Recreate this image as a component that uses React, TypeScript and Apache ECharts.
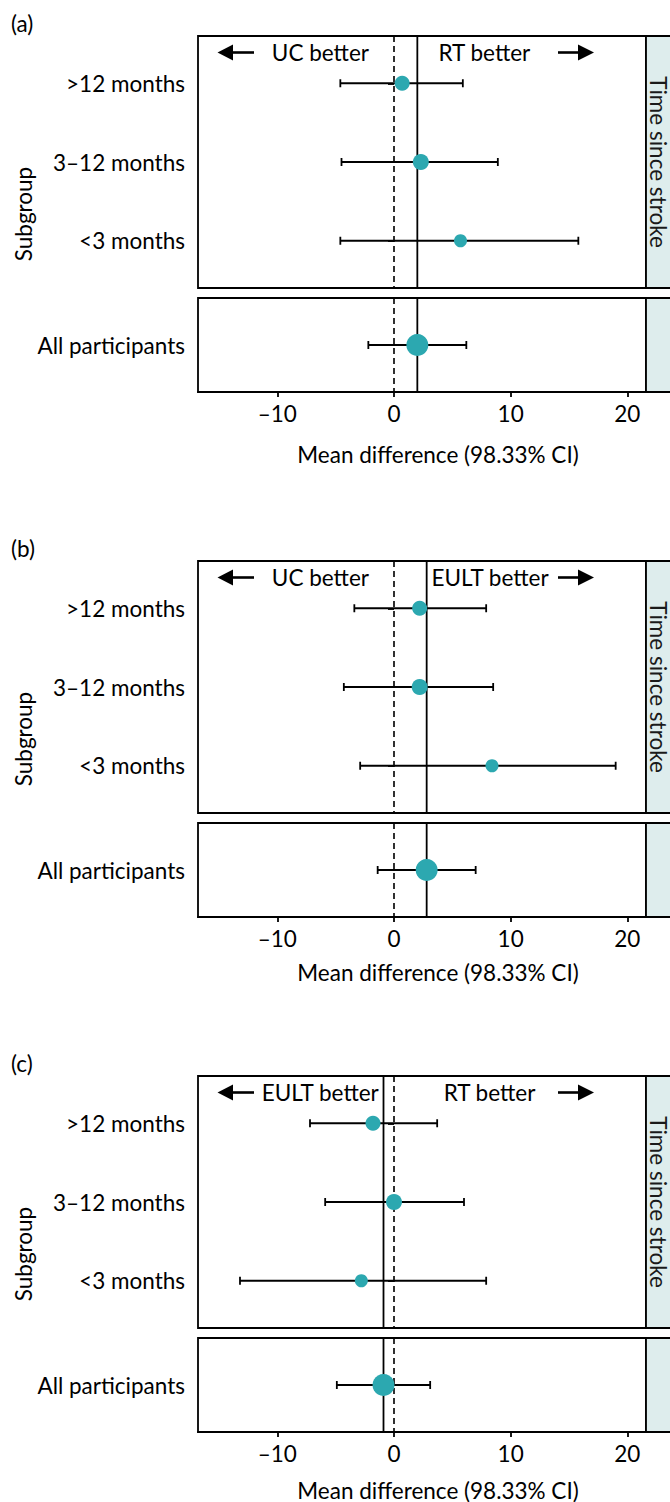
import React, { useEffect, useRef } from 'react';
import * as echarts from 'echarts';

// ---------- data ----------
const categories = ['>12 months', '3–12 months', '<3 months'];
const overallLabel = 'All participants';
const panelTags = ['(a)', '(b)', '(c)'];
const leftLabels = ['UC better', 'UC better', 'EULT better'];
const rightLabels = ['RT better', 'EULT better', 'RT better'];
const stripLabel = 'Time since stroke';
const xTitle = 'Mean difference (98.33% CI)';
const yTitle = 'Subgroup';
const xTicks = [-10, 0, 10, 20];

// panel (a) RT vs UC
const estA = [0.7, 2.3, 5.7];
const lowA = [-4.6, -4.5, -4.6];
const highA = [5.9, 8.9, 15.8];
const allA = [2.0, -2.2, 6.2]; // estimate, low, high

// panel (b) EULT vs UC
const estB = [2.2, 2.2, 8.4];
const lowB = [-3.4, -4.3, -2.9];
const highB = [7.9, 8.5, 19.0];
const allB = [2.8, -1.4, 7.0];

// panel (c) RT vs EULT
const estC = [-1.8, 0.0, -2.8];
const lowC = [-7.2, -5.9, -13.2];
const highC = [3.7, 6.0, 7.9];
const allC = [-0.9, -4.9, 3.1];

const panels = [
  { est: estA, low: lowA, high: highA, all: allA },
  { est: estB, low: lowB, high: highB, all: allB },
  { est: estC, low: lowC, high: highC, all: allC },
];

// ---------- layout / style ----------
const X_MIN = -16.8;
const X_MAX = 21.6;
const GRID_LEFT = 198;
const GRID_W = 448;
const UPPER_H = 252;
const GAP = 10;
const LOWER_H = 94;
const panelTops = [36, 561, 1076];
const titleOffsets = [62, 55, 58];
const leftTextCenters = [320.4, 320.4, 320.2];
const rightTextCenters = [484.4, 490, 489.5];
const subgroupSizes = [15, 16, 13];
const overallSize = 22;
const TEAL = '#2ca8b0';
const LW = 1.8;
const FONT = 'Lato';
const FS = 22.5;

const fmtTick = (v: number) => (v < 0 ? '–' + Math.abs(v) : String(v));

function buildOption() {
  const grids: any[] = [];
  const xAxes: any[] = [];
  const yAxes: any[] = [];
  const series: any[] = [];
  const graphics: any[] = [];

  panels.forEach((p, pi) => {
    const top = panelTops[pi];
    const lowerTop = top + UPPER_H + GAP;
    [0, 1].forEach((k) => {
      const isLower = k === 1;
      const gi = pi * 2 + k;
      grids.push({
        left: GRID_LEFT,
        top: isLower ? lowerTop : top,
        width: GRID_W,
        height: isLower ? LOWER_H : UPPER_H,
        show: true,
        borderColor: '#000',
        borderWidth: LW,
        backgroundColor: '#fff',
      });
      xAxes.push({
        type: 'value',
        gridIndex: gi,
        min: X_MIN,
        max: X_MAX,
        splitLine: { show: false },
        axisLine: { show: isLower, lineStyle: { color: '#000', width: LW } },
        axisTick: {
          show: isLower,
          customValues: xTicks,
          length: 5,
          lineStyle: { color: '#000', width: LW },
        },
        axisLabel: {
          show: isLower,
          customValues: xTicks,
          formatter: (v: number) => fmtTick(Math.round(v)),
          color: '#000',
          fontFamily: FONT,
          fontSize: FS,
          margin: 10,
        },
      });
      const n = isLower ? 1 : categories.length;
      const vals = isLower ? [1] : categories.map((_, i) => i + 1);
      yAxes.push({
        type: 'value',
        gridIndex: gi,
        min: 0.4,
        max: n + 0.6,
        inverse: true,
        splitLine: { show: false },
        axisLine: { show: false },
        axisTick: {
          show: true,
          customValues: vals,
          length: 6,
          lineStyle: { color: '#000', width: LW },
        },
        axisLabel: {
          customValues: vals,
          formatter: (v: number) =>
            isLower ? overallLabel : categories[Math.round(v) - 1],
          color: '#000',
          fontFamily: FONT,
          fontSize: FS,
          margin: 13,
        },
      });

      const est = isLower ? [p.all[0]] : p.est;
      const lo = isLower ? [p.all[1]] : p.low;
      const hi = isLower ? [p.all[2]] : p.high;
      const sizes = isLower ? [overallSize] : subgroupSizes;

      // reference lines: zero (dashed) and overall estimate (solid)
      series.push({
        type: 'line',
        xAxisIndex: gi,
        yAxisIndex: gi,
        data: [
          [0, 0.4],
          [0, n + 0.6],
        ],
        symbol: 'none',
        silent: true,
        z: 1,
        lineStyle: { color: '#000', width: LW * 0.9, type: [6, 4] },
      });
      series.push({
        type: 'line',
        xAxisIndex: gi,
        yAxisIndex: gi,
        data: [
          [p.all[0], 0.4],
          [p.all[0], n + 0.6],
        ],
        symbol: 'none',
        silent: true,
        z: 1,
        lineStyle: { color: '#000', width: LW },
      });
      // error bars
      series.push({
        type: 'custom',
        xAxisIndex: gi,
        yAxisIndex: gi,
        z: 2,
        data: est.map((_, i) => [vals[i], lo[i], hi[i]]),
        encode: { x: [1, 2], y: 0 },
        renderItem: (params: any, api: any) => {
          const y = api.value(0);
          const a = api.coord([api.value(1), y]);
          const b = api.coord([api.value(2), y]);
          const c = 4;
          const style = { stroke: '#000', lineWidth: LW };
          return {
            type: 'group',
            children: [
              { type: 'line', shape: { x1: a[0], y1: a[1], x2: b[0], y2: b[1] }, style },
              { type: 'line', shape: { x1: a[0], y1: a[1] - c, x2: a[0], y2: a[1] + c }, style },
              { type: 'line', shape: { x1: b[0], y1: b[1] - c, x2: b[0], y2: b[1] + c }, style },
            ],
          };
        },
      });
      // point estimates
      series.push({
        type: 'scatter',
        xAxisIndex: gi,
        yAxisIndex: gi,
        z: 3,
        data: est.map((e, i) => [e, vals[i]]),
        symbol: 'circle',
        symbolSize: (_v: any, prm: any) => sizes[prm.dataIndex],
        itemStyle: { color: TEAL, opacity: 1 },
      });

      // strip on the right
      graphics.push({
        type: 'rect',
        z: 10,
        shape: {
          x: GRID_LEFT + GRID_W,
          y: isLower ? lowerTop : top,
          width: 40,
          height: isLower ? LOWER_H : UPPER_H,
        },
        style: { fill: '#deeded', stroke: '#000', lineWidth: LW },
      });
    });

    // strip label
    graphics.push({
      type: 'text',
      z: 11,
      x: 658,
      y: top + UPPER_H / 2,
      rotation: -Math.PI / 2,
      style: {
        text: stripLabel,
        fill: '#1a1a1a',
        font: `${FS}px ${FONT}`,
        align: 'center',
        verticalAlign: 'middle',
      },
    });

    // panel tag
    graphics.push({
      type: 'text',
      x: 11,
      y: top - 13,
      style: { text: panelTags[pi], fill: '#000', font: `${FS}px ${FONT}`, align: 'left', verticalAlign: 'middle' },
    });

    // y title
    graphics.push({
      type: 'text',
      x: 23,
      y: (top + top + UPPER_H + GAP + LOWER_H) / 2,
      rotation: Math.PI / 2,
      style: { text: yTitle, fill: '#000', font: `${FS}px ${FONT}`, align: 'center', verticalAlign: 'middle' },
    });

    // x title
    graphics.push({
      type: 'text',
      x: 438,
      y: top + UPPER_H + GAP + LOWER_H + titleOffsets[pi],
      style: { text: xTitle, fill: '#000', font: `${FS}px ${FONT}`, align: 'center', verticalAlign: 'middle' },
    });

    // direction annotations
    const ay = top + 16.5;
    graphics.push({
      type: 'text',
      z: 5,
      x: leftTextCenters[pi],
      y: ay,
      style: { text: leftLabels[pi], fill: '#000', font: `${FS}px ${FONT}`, align: 'center', verticalAlign: 'middle' },
    });
    graphics.push({
      type: 'text',
      z: 5,
      x: rightTextCenters[pi],
      y: ay,
      style: { text: rightLabels[pi], fill: '#000', font: `${FS}px ${FONT}`, align: 'center', verticalAlign: 'middle' },
    });
    // left arrow
    graphics.push({
      type: 'line',
      z: 5,
      shape: { x1: 230, y1: ay, x2: 254, y2: ay },
      style: { stroke: '#000', lineWidth: 2.6 },
    });
    graphics.push({
      type: 'polygon',
      z: 5,
      shape: { points: [[217.5, ay], [233, ay - 8], [233, ay + 8]] },
      style: { fill: '#000' },
    });
    // right arrow
    graphics.push({
      type: 'line',
      z: 5,
      shape: { x1: 558, y1: ay, x2: 581, y2: ay },
      style: { stroke: '#000', lineWidth: 2.6 },
    });
    graphics.push({
      type: 'polygon',
      z: 5,
      shape: { points: [[594, ay], [578, ay - 8], [578, ay + 8]] },
      style: { fill: '#000' },
    });
  });

  return {
    animation: false,
    backgroundColor: '#fff',
    textStyle: { fontFamily: FONT },
    grid: grids,
    xAxis: xAxes,
    yAxis: yAxes,
    series,
    graphic: graphics,
  };
}

export default function App() {
  const ref = useRef<HTMLDivElement>(null);
  useEffect(() => {
    if (!ref.current) return;
    const chart = echarts.init(ref.current, undefined, { renderer: 'svg' });
    chart.setOption(buildOption());
    return () => chart.dispose();
  }, []);
  return (
    <div
      ref={ref}
      style={{ position: 'absolute', left: 0, top: 0, width: 670, height: 1502, background: '#fff' }}
    />
  );
}
